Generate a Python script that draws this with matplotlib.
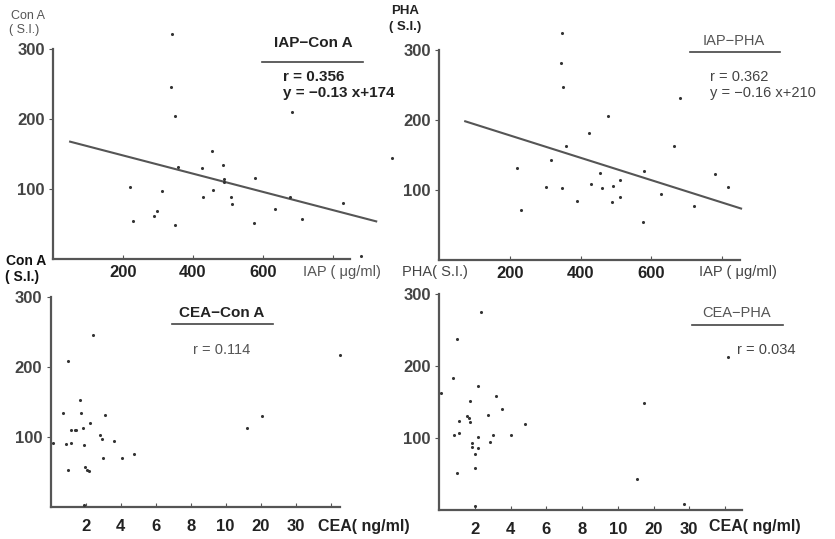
import matplotlib
matplotlib.use("Agg")
import matplotlib.pyplot as plt
import numpy as np
from matplotlib.lines import Line2D

plt.rcParams['font.family'] = ['Liberation Sans Narrow', 'Liberation Sans', 'DejaVu Sans']

# IAP vs Con A
iap_cona_x = [342, 338, 350, 685, 456, 357, 427, 486, 490, 490, 577, 219, 313, 458, 430, 510,
              511, 677, 830, 634, 299, 290, 230, 349, 575, 712, 970, 882]
iap_cona_y = [322, 246, 205, 210, 155, 132, 130, 134, 115, 110, 116, 103, 97, 98, 89, 89,
              79, 89, 80, 71, 69, 61, 54, 49, 51, 57, 144, 5]
cona_fit = (-0.13, 174)
cona_fit_x = [49, 925]

# IAP vs PHA
iap_pha_x = [346, 345, 349, 478, 681, 424, 359, 665, 317, 220, 454, 579, 780, 429, 512, 491,
             459, 301, 348, 816, 628, 510, 389, 489, 721, 231, 576]
iap_pha_y = [324, 282, 247, 206, 232, 181, 163, 163, 143, 132, 125, 127, 123, 108, 114, 106,
             103, 104, 103, 105, 95, 90, 84, 83, 77, 71, 54]
pha_fit = (-0.16, 210)
pha_fit_x = [74, 853]

# CEA vs Con A
cea_cona_x = [2.4, 1.0, 1.67, 1.73, 0.7, 3.1, 2.25, 1.82, 1.17, 1.4, 1.45, 16, 20.3, 42.6,
              0.15, 0.87, 1.16, 1.89, 2.8, 2.91, 3.6, 2.99, 4.07, 4.76, 0.99, 1.95, 2.1, 2.2, 1.9]
cea_cona_y = [246, 208, 153, 134, 134, 131, 120, 113, 109, 109, 109, 112, 130, 217,
              91, 89, 91, 88, 102, 97, 94, 70, 70, 75, 53, 57, 53, 51, 3]

# CEA vs PHA
cea_pha_x = [2.35, 1.0, 0.75, 0.11, 2.15, 3.2, 1.72, 3.5, 2.75, 1.57, 1.65, 1.7, 1.1, 4.8,
             0.84, 1.1, 2.16, 3.0, 4.0, 2.84, 1.85, 1.85, 2.15, 2.0, 2.0, 1.0, 2.0, 17.4, 15.5, 28.5, 40.8]
cea_pha_y = [275, 238, 183, 162, 172, 159, 152, 140, 132, 130, 128, 122, 124, 119,
             104, 107, 102, 104, 104, 95, 93, 88, 86, 78, 59, 52, 6, 149, 43, 8, 213]

iap_ticks = [200, 400, 600, 800]
iap_labels = ['200', '400', '600', '']
cea_ticks = [2, 4, 6, 8, 10, 20, 30, 40]
cea_labels = ['2', '4', '6', '8', '10', '20', '30', '']
si_ticks = [100, 200, 300]
si_labels = ['100', '200', '300']

# CEA axis: 2 ng/ml per division up to 10, then 10 ng/ml per division
cea_knots = [0, 10, 30, 60]
div_knots = [0, 5, 7, 10]

W, H = 835, 539
fig = plt.figure(figsize=(W / 100, H / 100), dpi=100)
ink = '#333333'


def fx(x):
    return x / W


def fy(y):
    return 1 - y / H


def make_axes(rect, tick_pad):
    ax = fig.add_axes(rect)
    for s in ['top', 'right']:
        ax.spines[s].set_visible(False)
    for s in ['left', 'bottom']:
        ax.spines[s].set_color('#555555')
        ax.spines[s].set_linewidth(1.6)
    ax.tick_params(axis='x', direction='in', length=3, color='#555555', pad=tick_pad,
                   labelsize=12, labelcolor='#222222')
    ax.tick_params(axis='y', direction='out', length=3, color='#555555', pad=3,
                   labelsize=12, labelcolor='#444444')
    return ax


def dots(ax, x, y):
    ax.scatter(x, y, s=5, color=ink, linewidths=0, clip_on=False, zorder=3)


# top left
ax1 = make_axes([fx(53), fy(259), fx(297), 210 / H], 4)
ax1.set_xlim(0, 850)
ax1.set_ylim(0, 300)
dots(ax1, iap_cona_x, iap_cona_y)
lx = np.array(cona_fit_x)
ax1.plot(lx, cona_fit[0] * lx + cona_fit[1], color='#555555', lw=1.5, clip_on=False)
ax1.set_xticks(iap_ticks, iap_labels, fontweight='bold')
ax1.set_yticks(si_ticks, si_labels, fontweight='bold')

# top right
ax2 = make_axes([fx(439), fy(260), fx(301), 210 / H], 4)
ax2.set_xlim(0, 850)
ax2.set_ylim(0, 300)
dots(ax2, iap_pha_x, iap_pha_y)
lx = np.array(pha_fit_x)
ax2.plot(lx, pha_fit[0] * lx + pha_fit[1], color='#555555', lw=1.5, clip_on=False)
ax2.set_xticks(iap_ticks, iap_labels, fontweight='bold')
ax2.set_yticks(si_ticks, si_labels, fontweight='bold')

fwd = lambda v: np.interp(v, cea_knots, div_knots)
inv = lambda d: np.interp(d, div_knots, cea_knots)

# bottom left
ax3 = make_axes([fx(50.7), fy(506.7), fx(289.3), 210 / H], 9)
ax3.set_xscale('function', functions=(fwd, inv))
ax3.set_xlim(0, inv(8.27))
ax3.set_ylim(0, 300)
dots(ax3, cea_cona_x, cea_cona_y)
ax3.set_xticks(cea_ticks, cea_labels, fontweight='bold')
ax3.set_yticks(si_ticks, si_labels, fontweight='bold')

# bottom right
ax4 = make_axes([fx(439.3), fy(510), fx(302.4), 216 / H], 9)
ax4.set_xscale('function', functions=(fwd, inv))
ax4.set_xlim(0, inv(8.47))
ax4.set_ylim(0, 300)
dots(ax4, cea_pha_x, cea_pha_y)
ax4.set_xticks(cea_ticks, cea_labels, fontweight='bold')
ax4.set_yticks(si_ticks, si_labels, fontweight='bold')


def label(x, y, s, size=11, weight='normal', color=ink, ha='left', family=None):
    fig.text(fx(x), fy(y), s, fontsize=size, fontweight=weight, color=color,
             ha=ha, va='center', family=family or ['Liberation Sans', 'DejaVu Sans'])


def underline(x0, x1, y):
    fig.add_artist(Line2D([fx(x0), fx(x1)], [fy(y), fy(y)], color='#444444', lw=1.2))


# y axis names
label(11, 16, 'Con A', 9, color='#555555')
label(9, 30, '( S.I.)', 9, color='#555555')
label(391, 11, 'PHA', 9.5, 'bold', '#222222')
label(389, 27, '( S.I.)', 9.5, 'bold', '#222222')
label(6, 261, 'Con A', 10, 'bold', '#111111')
label(5, 277, '( S.I.)', 10, 'bold', '#111111')
label(402, 272, 'PHA( S.I.)', 10.5, color='#444444')

# x axis names
label(303, 272, 'IAP ( μg/ml)', 10.5, color='#555555')
label(699, 272, 'IAP ( μg/ml)', 10.5, color='#444444')
label(318, 527, 'CEA( ng/ml)', 11.5, 'bold', '#222222')
label(709, 527, 'CEA( ng/ml)', 11.5, 'bold', '#222222')

# panel titles and statistics
label(313, 43, 'IAP−Con A', 11, 'bold', '#222222', 'center')
underline(262, 363, 62)
label(283, 77, 'r = 0.356', 11, 'bold', '#222222')
label(283, 93, 'y = −0.13 x+174', 11, 'bold', '#222222')

label(734, 41, 'IAP−PHA', 10.5, 'normal', '#555555', 'center')
underline(690, 780, 52)
label(710, 77, 'r = 0.362', 10.5, 'normal', '#444444')
label(710, 93, 'y = −0.16 x+210', 10.5, 'normal', '#444444')

label(222, 313, 'CEA−Con A', 11, 'bold', '#222222', 'center')
underline(172, 273, 324)
label(193, 350, 'r = 0.114', 10.5, 'normal', '#555555')

label(737, 313, 'CEA−PHA', 10.5, 'normal', '#555555', 'center')
underline(692, 783, 325)
label(737, 350, 'r = 0.034', 10.5, 'normal', '#444444')

fig.savefig('out.png', dpi=100, facecolor='white')
